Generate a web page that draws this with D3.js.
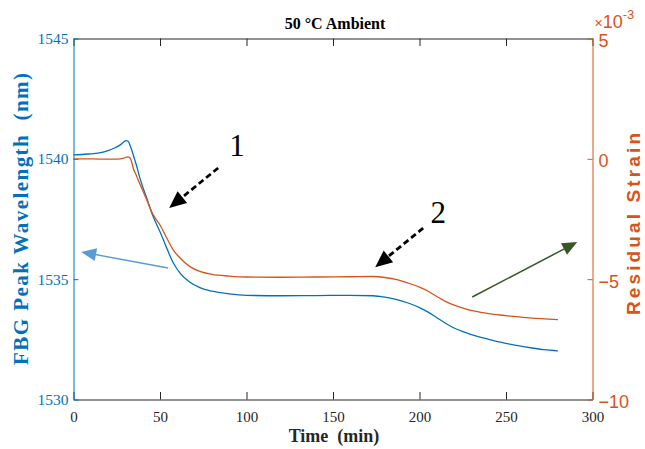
<!DOCTYPE html>
<html>
<head>
<meta charset="utf-8">
<script src="https://cdn.jsdelivr.net/npm/d3@7"></script>
<style>
  body { margin: 0; background: #fff; }
  svg { display: block; }
</style>
</head>
<body>
<svg id="chart" width="645" height="449"></svg>
<script>
// Time samples (min)
const timeMin = [0, 8, 15, 20, 24, 27, 29, 30.3, 31.6, 33, 34.6, 36.5, 38.4, 42.3, 46.1, 50, 53.9, 57.7, 61.6, 67.3,
  73, 80, 90, 100, 120, 140, 160, 173, 180, 187, 193, 200, 205, 210, 215, 220, 226,
  232, 240, 248, 256, 265, 272, 280];

// FBG peak wavelength (nm), left axis
const wavelengthNm = [1540.16, 1540.20, 1540.25, 1540.34, 1540.46, 1540.58, 1540.70, 1540.76, 1540.73, 1540.50,
  1540.15, 1539.70, 1539.20, 1538.37, 1537.59, 1536.97, 1536.29, 1535.67, 1535.25, 1534.87,
  1534.65, 1534.50, 1534.39, 1534.33, 1534.31, 1534.32, 1534.33, 1534.31, 1534.25, 1534.15,
  1534.02, 1533.82, 1533.63, 1533.40, 1533.17, 1532.97, 1532.80,
  1532.65, 1532.50, 1532.36, 1532.25, 1532.14, 1532.07, 1532.02];

// Residual strain (x10^-3), right axis
const strainMilli = [0.00, 0.00, -0.01, -0.01, -0.01, 0.00, 0.03, 0.06, 0.08, 0.00,
  -0.40, -0.72, -1.05, -1.70, -2.33, -2.75, -3.29, -3.79, -4.12, -4.48,
  -4.68, -4.80, -4.87, -4.91, -4.92, -4.91, -4.90, -4.89, -4.93, -5.02,
  -5.15, -5.33, -5.50, -5.72, -5.92, -6.08, -6.22,
  -6.33, -6.43, -6.50, -6.56, -6.62, -6.65, -6.68];

const xTicks = [0, 50, 100, 150, 200, 250, 300];
const leftTicks = [1530, 1535, 1540, 1545];
const rightTicks = [-10, -5, 0, 5];

// Annotation arrows, in data units (time, wavelength)
const calloutArrows = [
  { from: [83.6, 1539.62], to: [55.3, 1537.96], label: "1", at: [94.5, 1540.1] },
  { from: [202.1, 1537.12], to: [174.4, 1535.50], label: "2", at: [210.8, 1537.35] }
];
const axisArrows = [
  { from: [54.7, 1535.46], to: [4.45, 1536.13], color: "#5B9BD5" },
  { from: [230.5, 1534.26], to: [291.2, 1536.54], color: "#375623" }
];

const blue = "#0072BD";
const orange = "#D95319";
const serif = "'Liberation Serif', 'Times New Roman', serif";
const sans = "'Liberation Sans', Arial, sans-serif";

const L = 73.5, R = 592.5, T = 38.5, B = 399.5;

const svg = d3.select("#chart");

const x = d3.scaleLinear().domain([0, 300]).range([L, R]);
const yL = d3.scaleLinear().domain([1530, 1545]).range([B, T]);
const yR = d3.scaleLinear().domain([-10, 5]).range([B, T]);

// Bottom axis
const gB = svg.append("g").attr("transform", `translate(0,${B})`)
  .call(d3.axisBottom(x).tickValues(xTicks).tickSize(-7.5).tickSizeOuter(0).tickPadding(12));
gB.select(".domain").attr("stroke", "#262626");
gB.selectAll(".tick line").attr("stroke", "#262626");
gB.selectAll(".tick text").attr("font-family", serif).attr("font-size", 15).attr("fill", "#262626");

// Top axis (ticks only)
const gT = svg.append("g").attr("transform", `translate(0,${T})`)
  .call(d3.axisTop(x).tickValues(xTicks).tickSize(-7.5).tickSizeOuter(0).tickFormat(""));
gT.select(".domain").attr("stroke", "#262626");
gT.selectAll(".tick line").attr("stroke", "#262626");

// Left axis
const gL = svg.append("g").attr("transform", `translate(${L},0)`)
  .call(d3.axisLeft(yL).tickValues(leftTicks).tickSize(-5).tickSizeOuter(0).tickPadding(5).tickFormat(d3.format("d")));
gL.select(".domain").attr("stroke", blue);
gL.selectAll(".tick line").attr("stroke", blue);
gL.selectAll(".tick text").attr("font-family", serif).attr("font-size", 15.5).attr("fill", blue);

// Right axis
const gR = svg.append("g").attr("transform", `translate(${R},0)`)
  .call(d3.axisRight(yR).tickValues(rightTicks).tickSize(-5).tickSizeOuter(0).tickPadding(6).tickFormat(d3.format("d")));
gR.select(".domain").attr("stroke", orange);
gR.selectAll(".tick line").attr("stroke", orange);
gR.selectAll(".tick text").attr("font-family", sans).attr("font-size", 18).attr("dy", "0.45em").attr("fill", orange);

svg.selectAll(".domain").attr("stroke-width", 1);

// Exponent marker on the right axis
const expo = svg.append("text").attr("x", R + 2).attr("y", 28)
  .attr("font-family", sans).attr("fill", orange);
expo.append("tspan").attr("font-size", 14).text("\u00d7");
expo.append("tspan").attr("font-size", 18).text("10");
expo.append("tspan").attr("dy", -9).attr("font-size", 13).text("-3");

// Data lines
const pts = timeMin.map((t, i) => ({ t, w: wavelengthNm[i], s: strainMilli[i] }));

svg.append("path").datum(pts)
  .attr("fill", "none").attr("stroke", blue).attr("stroke-width", 1.3)
  .attr("d", d3.line().x(d => x(d.t)).y(d => yL(d.w)).curve(d3.curveMonotoneX));

svg.append("path").datum(pts)
  .attr("fill", "none").attr("stroke", orange).attr("stroke-width", 1.3)
  .attr("d", d3.line().x(d => x(d.t)).y(d => yR(d.s)).curve(d3.curveMonotoneX));

// Arrow helper: shaft from start to head base, filled triangular head at the tip
function arrow(g, from, to, color, opts) {
  const x1 = x(from[0]), y1 = yL(from[1]), x2 = x(to[0]), y2 = yL(to[1]);
  const dx = x2 - x1, dy = y2 - y1, len = Math.hypot(dx, dy);
  const ux = dx / len, uy = dy / len, nx = -uy, ny = ux;
  const hl = opts.headLen, hw = opts.headWidth / 2;
  const bx = x2 - ux * hl, by = y2 - uy * hl;
  g.append("line")
    .attr("x1", x1).attr("y1", y1).attr("x2", bx + ux * 2).attr("y2", by + uy * 2)
    .attr("stroke", color).attr("stroke-width", opts.width)
    .attr("stroke-dasharray", opts.dash || null);
  g.append("path")
    .attr("d", `M${x2},${y2}L${bx + nx * hw},${by + ny * hw}L${bx - nx * hw},${by - ny * hw}Z`)
    .attr("fill", color);
}

const ann = svg.append("g");
calloutArrows.forEach(a => {
  arrow(ann, a.from, a.to, "#000", { width: 2.8, dash: "6,3.5", headLen: 17, headWidth: 15 });
  ann.append("text").attr("x", x(a.at[0])).attr("y", yL(a.at[1]))
    .attr("text-anchor", "middle").attr("font-family", serif).attr("font-size", 31)
    .attr("fill", "#000").text(a.label);
});
axisArrows.forEach(a => {
  arrow(ann, a.from, a.to, a.color, { width: 1.5, headLen: 15, headWidth: 13 });
});

// Title and axis labels
svg.append("text").attr("x", 335).attr("y", 29)
  .attr("text-anchor", "middle").attr("font-family", serif).attr("font-weight", "bold")
  .attr("font-size", 16).attr("fill", "#000").text("50 \u00b0C Ambient");

svg.append("text").attr("x", 334).attr("y", 442)
  .attr("text-anchor", "middle").attr("font-family", serif).attr("font-weight", "bold")
  .attr("font-size", 18).attr("fill", "#262626").attr("xml:space", "preserve").text("Time  (min)");

svg.append("text").attr("transform", "translate(28,219) rotate(-90)")
  .attr("text-anchor", "middle").attr("font-family", serif).attr("font-weight", "bold")
  .attr("font-size", 21).attr("fill", blue).attr("xml:space", "preserve")
  .attr("textLength", 292).attr("lengthAdjust", "spacing")
  .text("FBG Peak Wavelength  (nm)");

svg.append("text").attr("transform", "translate(640,224) rotate(-90)")
  .attr("text-anchor", "middle").attr("font-family", sans).attr("font-weight", "bold")
  .attr("font-size", 19).attr("fill", orange)
  .attr("textLength", 182).attr("lengthAdjust", "spacing")
  .text("Residual Strain");
</script>
</body>
</html>
